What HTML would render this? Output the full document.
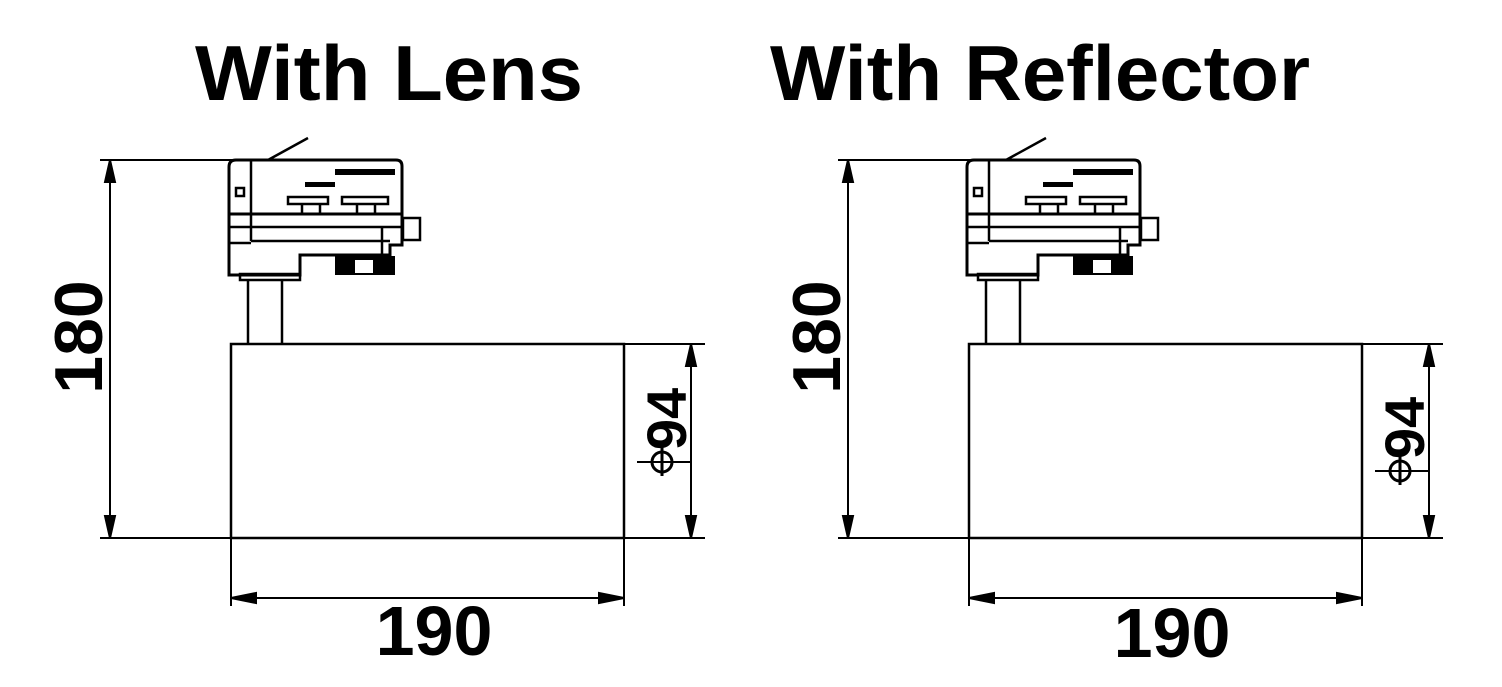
<!DOCTYPE html>
<html><head><style>
html,body{margin:0;padding:0;background:#fff;}
svg{display:block;}
text{font-family:"Liberation Sans",Arial,sans-serif;font-weight:bold;fill:#000;}
</style></head><body>
<svg width="1502" height="687" viewBox="0 0 1502 687" xmlns="http://www.w3.org/2000/svg">
<defs>
<g id="adapter" fill="none" stroke="#000" stroke-width="2.5">
  <line x1="268" y1="160" x2="308" y2="138"/>
  <path d="M236 160 H396 Q402 160 402 166 V214 H229 V167 Q229 160 236 160 Z" stroke-width="3"/>
  <line x1="251" y1="160" x2="251" y2="214"/>
  <rect x="236" y="188" width="8" height="8"/>
  <rect x="335" y="169" width="60" height="6" fill="#000" stroke="none"/>
  <rect x="305" y="182" width="30" height="5" fill="#000" stroke="none"/>
  <rect x="288" y="197" width="40" height="7"/>
  <rect x="342" y="197" width="46" height="7"/>
  <line x1="302" y1="204" x2="302" y2="214"/><line x1="320" y1="204" x2="320" y2="214"/>
  <line x1="357" y1="204" x2="357" y2="214"/><line x1="375" y1="204" x2="375" y2="214"/>
  <path d="M229 214 V275 H300 V255 H390 V245 H402 V214" stroke-width="3"/>
  <line x1="229" y1="227" x2="402" y2="227"/>
  <line x1="251" y1="241" x2="390" y2="241"/>
  <line x1="251" y1="214" x2="251" y2="241"/>
  <line x1="229" y1="243" x2="251" y2="243"/>
  <line x1="382" y1="227" x2="382" y2="255"/>
  <rect x="403" y="218" width="17" height="22"/>
  <rect x="335" y="256" width="60" height="19" fill="#000" stroke="none"/>
  <rect x="355" y="260" width="18" height="13" fill="#fff" stroke="none"/>
  <rect x="240" y="274" width="60" height="6"/>
  <line x1="248" y1="280" x2="248" y2="344"/>
  <line x1="282" y1="280" x2="282" y2="344"/>
</g>
<g id="dims" fill="none" stroke="#000" stroke-width="2">
  <line x1="100" y1="160" x2="236" y2="160"/>
  <line x1="110" y1="160" x2="110" y2="538"/>
  <path d="M110 160 L105 182 L115 182 Z M110 538 L105 516 L115 516 Z" fill="#000"/>
  <line x1="100" y1="538" x2="705" y2="538"/>
  <rect x="231" y="344" width="393" height="194" stroke-width="2.5"/>
  <line x1="624" y1="344" x2="705" y2="344"/>
  <line x1="231" y1="538" x2="231" y2="606"/>
  <line x1="624" y1="538" x2="624" y2="606"/>
  <line x1="691" y1="344" x2="691" y2="538"/>
  <path d="M691 344 L686 366 L696 366 Z M691 538 L686 516 L696 516 Z" fill="#000"/>
  <line x1="231" y1="598" x2="624" y2="598"/>
  <path d="M231 598 L256 593 L256 603 Z M624 598 L599 593 L599 603 Z" fill="#000"/>
</g>
</defs>

<text x="195" y="100" font-size="78" textLength="388" lengthAdjust="spacingAndGlyphs">With Lens</text>
<text x="770" y="100" font-size="78" textLength="540" lengthAdjust="spacingAndGlyphs">With Reflector</text>

<use href="#dims"/>
<use href="#adapter"/>
<g transform="translate(738,0)">
  <use href="#dims"/>
  <use href="#adapter"/>
</g>

<text x="0" y="0" font-size="68" text-anchor="middle" transform="translate(102,337) rotate(-90)">180</text>
<text x="434" y="655" font-size="70" text-anchor="middle">190</text>
<g transform="translate(686,433) rotate(-90)">
  <text x="14" y="0" font-size="56" text-anchor="middle">94</text>
</g>
<g fill="none" stroke="#000" stroke-width="3">
  <circle cx="662" cy="462" r="10"/>
  <line x1="662" y1="445" x2="662" y2="476"/>
  <line x1="637" y1="462" x2="690" y2="462" stroke-width="2"/>
</g>

<text x="0" y="0" font-size="68" text-anchor="middle" transform="translate(840,337) rotate(-90)">180</text>
<text x="1172" y="657" font-size="70" text-anchor="middle">190</text>
<g transform="translate(1424,442) rotate(-90)">
  <text x="14" y="0" font-size="56" text-anchor="middle">94</text>
</g>
<g fill="none" stroke="#000" stroke-width="3">
  <circle cx="1400" cy="471" r="10"/>
  <line x1="1400" y1="454" x2="1400" y2="485"/>
  <line x1="1375" y1="471" x2="1428" y2="471" stroke-width="2"/>
</g>
</svg>
</body></html>
